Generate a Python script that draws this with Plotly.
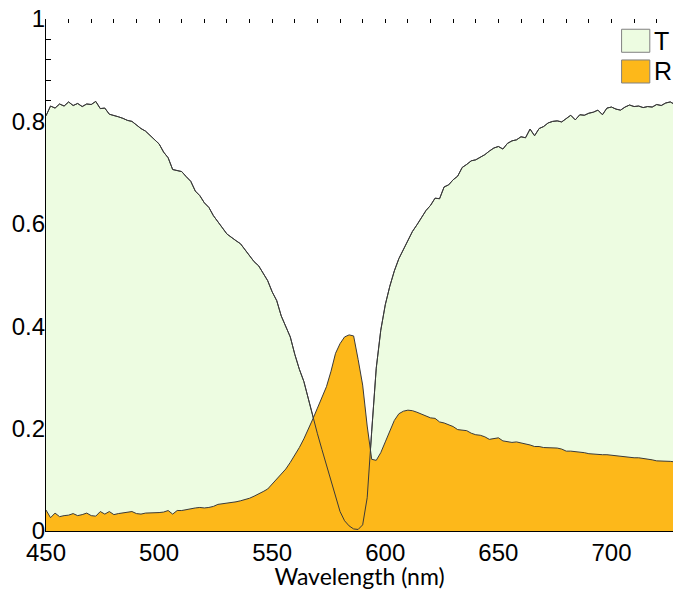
import plotly.graph_objects as go

wavelength = list(range(450, 730, 2))

transmission = [
    0.811, 0.830, 0.826, 0.834, 0.830, 0.838, 0.831, 0.835, 0.829, 0.834,
    0.833, 0.839, 0.825, 0.826, 0.814, 0.812, 0.809, 0.806, 0.802, 0.800,
    0.793, 0.786, 0.781, 0.772, 0.764, 0.756, 0.740, 0.729, 0.706, 0.704,
    0.702, 0.692, 0.683, 0.664, 0.655, 0.641, 0.632, 0.616, 0.605, 0.592,
    0.580, 0.573, 0.567, 0.561, 0.549, 0.537, 0.526, 0.518, 0.503, 0.489,
    0.467, 0.450, 0.420, 0.399, 0.379, 0.345, 0.316, 0.292, 0.256, 0.223,
    0.190, 0.159, 0.128, 0.097, 0.066, 0.038, 0.020, 0.010, 0.004, 0.003,
    0.012, 0.065, 0.195, 0.318, 0.392, 0.442, 0.478, 0.508, 0.532, 0.550,
    0.568, 0.585, 0.598, 0.612, 0.626, 0.636, 0.650, 0.649, 0.672, 0.676,
    0.686, 0.693, 0.710, 0.716, 0.723, 0.725, 0.730, 0.735, 0.742, 0.748,
    0.751, 0.746, 0.757, 0.762, 0.764, 0.770, 0.768, 0.785, 0.772, 0.786,
    0.790, 0.797, 0.800, 0.801, 0.799, 0.806, 0.812, 0.803, 0.813, 0.812,
    0.816, 0.818, 0.822, 0.813, 0.826, 0.828, 0.824, 0.822, 0.828, 0.832,
    0.829, 0.830, 0.827, 0.829, 0.828, 0.833, 0.831, 0.836, 0.838, 0.833,
]

reflection = [
    0.041, 0.026, 0.035, 0.028, 0.030, 0.031, 0.034, 0.030, 0.032, 0.035,
    0.030, 0.029, 0.038, 0.033, 0.038, 0.032, 0.034, 0.035, 0.036, 0.038,
    0.034, 0.033, 0.035, 0.035, 0.036, 0.036, 0.037, 0.040, 0.033, 0.040,
    0.040, 0.042, 0.044, 0.045, 0.046, 0.045, 0.046, 0.048, 0.052, 0.053,
    0.054, 0.055, 0.057, 0.059, 0.061, 0.064, 0.068, 0.072, 0.077, 0.082,
    0.092, 0.101, 0.110, 0.121, 0.134, 0.148, 0.163, 0.180, 0.198, 0.219,
    0.240, 0.260, 0.282, 0.312, 0.347, 0.366, 0.379, 0.383, 0.381, 0.335,
    0.285, 0.205, 0.140, 0.138, 0.153, 0.174, 0.195, 0.216, 0.229, 0.234,
    0.236, 0.235, 0.232, 0.228, 0.224, 0.221, 0.220, 0.213, 0.211, 0.207,
    0.204, 0.198, 0.197, 0.196, 0.191, 0.188, 0.187, 0.184, 0.179, 0.181,
    0.182, 0.176, 0.174, 0.173, 0.174, 0.172, 0.171, 0.168, 0.165, 0.165,
    0.163, 0.163, 0.162, 0.162, 0.160, 0.156, 0.156, 0.155, 0.155, 0.153,
    0.151, 0.150, 0.150, 0.149, 0.149, 0.148, 0.146, 0.145, 0.144, 0.144,
    0.143, 0.143, 0.142, 0.141, 0.139, 0.137, 0.137, 0.136, 0.136, 0.135,
]

legend_labels = ["T", "R"]
green = "#EDFCE1"
orange = "#FDB81A"
line_col = "#3a3a3a"

fig = go.Figure()
fig.add_trace(go.Scatter(x=wavelength, y=transmission, mode="lines", fill="tozeroy",
                         fillcolor=green, line=dict(color=line_col, width=1),
                         showlegend=False, hoverinfo="skip"))
fig.add_trace(go.Scatter(x=wavelength, y=reflection, mode="lines", fill="tozeroy",
                         fillcolor=orange, line=dict(color=line_col, width=1),
                         showlegend=False, hoverinfo="skip"))
fig.add_trace(go.Scatter(x=wavelength, y=transmission, mode="lines",
                         line=dict(color=line_col, width=1),
                         showlegend=False, hoverinfo="skip"))
# helper trace so overlay axes (top ticks, left axis line) are drawn
fig.add_trace(go.Scatter(x=wavelength, y=transmission, mode="lines", xaxis="x2", yaxis="y2",
                         line=dict(width=0), opacity=0, showlegend=False, hoverinfo="skip"))

tickfont = dict(family="Liberation Sans, Arial, sans-serif", size=24, color="black")

fig.update_layout(
    width=673, height=590,
    margin=dict(l=46, r=0, t=19, b=59),
    paper_bgcolor="white", plot_bgcolor="white",
    xaxis=dict(range=[450, 727.2], dtick=50, tick0=450, ticks="", showline=True,
               linecolor="black", linewidth=1, showgrid=False, zeroline=False,
               tickfont=tickfont, layer="above traces",
               title=dict(text="Wavelength (nm)", standoff=6,
                          font=dict(family="Lato, Carlito, sans-serif", size=23, color="black"))),
    yaxis=dict(range=[0, 1], dtick=0.2, tick0=0, ticks="inside", ticklen=5, tickcolor="black",
               showline=False, showgrid=False, zeroline=False, tickfont=tickfont,
               layer="below traces",
               minor=dict(dtick=0.04, ticks="inside", ticklen=5, tickcolor="black", showgrid=False)),
    xaxis2=dict(overlaying="x", matches="x", side="top", anchor="y", ticks="inside", ticklen=4,
                tickcolor="black", dtick=10, tick0=450, showticklabels=False, showline=False,
                showgrid=False, zeroline=False),
    yaxis2=dict(overlaying="y", matches="y", side="left", anchor="x", ticks="",
                showticklabels=False, showline=True, linecolor="black", linewidth=1,
                showgrid=False, zeroline=False, layer="above traces"),
)

# legend drawn as boxes + labels in paper coordinates
boxes = [(0.918, 0.935, 0.963, 0.980, green), (0.918, 0.875, 0.963, 0.920, orange)]
for (x0, y0, x1, y1, col), lab in zip(boxes, legend_labels):
    fig.add_shape(type="rect", xref="paper", yref="paper", x0=x0, y0=y0, x1=x1, y1=y1,
                  fillcolor=col, line=dict(color="#808080", width=1))
    fig.add_annotation(xref="paper", yref="paper", x=0.966, y=(y0 + y1) / 2, text=lab,
                       showarrow=False, xanchor="left", yanchor="middle",
                       font=dict(family="Liberation Sans, Arial, sans-serif", size=25, color="black"))

fig.write_html("out.html")
